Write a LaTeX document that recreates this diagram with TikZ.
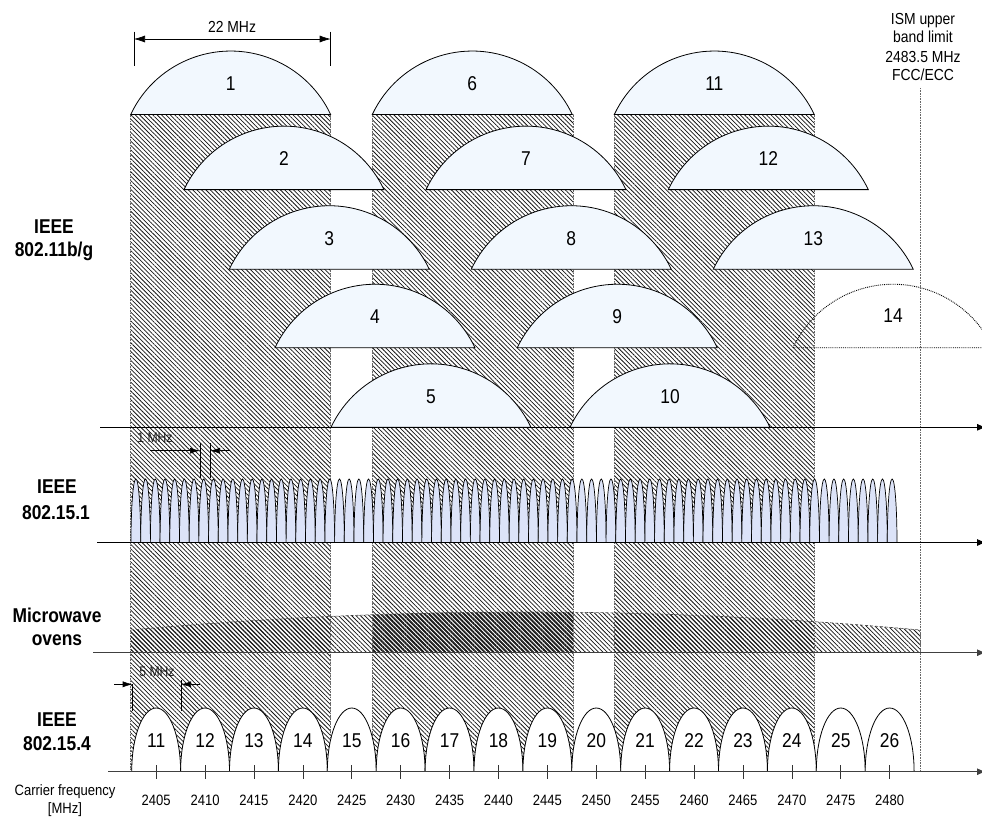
\documentclass[tikz,border=0pt]{standalone}
\usepackage{fontspec}
\setmainfont{Liberation Sans}[FakeStretch=0.87]
\usetikzlibrary{patterns.meta,arrows.meta}
\definecolor{domefill}{HTML}{F2F8FE}
\definecolor{btfill}{HTML}{DCE3F8}
\definecolor{hatchc}{HTML}{151515}
\newcommand\setfs[1]{\fontsize{#1}{#1}\selectfont}
\begin{document}
\begin{tikzpicture}[x=1pt,y=-1pt,
  hatch/.style={pattern={Lines[angle=-45,distance=3.1pt,line width=0.75pt]},pattern color=hatchc},
  hatchB/.style={pattern={Lines[angle=-45,distance=3.1pt,line width=0.75pt,yshift=0.6pt]},pattern color=hatchc},
  hatchC/.style={pattern={Lines[angle=-45,distance=3.1pt,line width=0.75pt,yshift=1.55pt]},pattern color=hatchc},
  bandedge/.style={densely dotted,draw=black!60,line width=0.6pt},
  dome/.style={draw=black,line width=0.8pt,fill=domefill},
  dome14/.style={draw=black,densely dotted,line width=0.9pt},
  btlobe/.style={draw=black,line width=0.7pt,fill=btfill},
  arch/.style={draw=black,line width=0.8pt,fill=white},
  axisline/.style={draw=black,line width=0.8pt,-{Latex[length=9pt,width=7pt]}},
  axisgray/.style={draw=black!75,line width=1.1pt,-{Latex[length=9pt,width=7pt]}},
  dimline/.style={draw=black,line width=0.6pt},
  dimarrow/.style={draw=black,line width=0.6pt,-{Latex[length=10pt,width=6pt]}},
  ticky/.style={draw=black!80,line width=0.7pt},
  num/.style={font=\setfs{20},inner sep=0pt},
  freq/.style={font=\setfs{15},inner sep=0pt},
  small/.style={font=\setfs{14},inner sep=0pt},
  lbl/.style={font=\bfseries\setfs{20},inner sep=0pt,anchor=base},
  side/.style={font=\setfs{15},inner sep=0pt,anchor=base},
  ism/.style={font=\setfs{16},inner sep=0pt,anchor=base},
]
\useasboundingbox (0,0) rectangle (982,817);
\clip (0,0) rectangle (982,817);

% dimension texts (under hatching)
\node[small,text=black!85] (t1mhz) at (155,438) {1 MHz};
\node[small,text=black!85] (t5mhz) at (157,672) {5 MHz};

% hatched non-overlapping channel bands
\foreach \l/\r in {130.7/330.7, 372.3/573.3, 614.3/814.3}{
  \fill[hatch] (\l,114.5) rectangle (\r,771.7);
}
% microwave oven band
\path[hatchB] (131,652.7) -- (131,630) .. controls (394,606) and (657,606) .. (920,630) -- (920,652.7) -- cycle;
\begin{scope}
  \clip (372.3,590) rectangle (573.3,652.7);
  \path[hatchC] (131,652.7) -- (131,630) .. controls (394,606) and (657,606) .. (920,630) -- (920,652.7) -- cycle;
\end{scope}
\draw[densely dashed,draw=black!75,line width=0.6pt] (131,630) .. controls (394,606) and (657,606) .. (920,630);
\draw[bandedge] (920,630) -- (920,652.7);

% dotted edges of the bands
\foreach \x in {130.7,330.7,372.3,573.3,614.3,814.3}{
  \draw[bandedge] (\x,114.5) -- (\x,771.7);
}
% ISM upper band limit
\coordinate (ismtop) at (920,88);
\coordinate (ismbot) at (920,771.7);
\draw[bandedge] (ismtop) -- (ismbot);
\node[ism] (ism1) at (923,24) {ISM upper};
\node[ism] (ism2) at (923,42.5) {band limit};
\node[ism] (ism3) at (923,62) {2483.5 MHz};
\node[ism] (ism4) at (923,80) {FCC/ECC};

% 802.11 channels (domes)
\foreach \l/\b/\n in {130.7/114.5/1, 372.3/114.5/6, 614.3/114.5/11,
                      184/189.6/2, 426/189.6/7, 668.3/189.6/12,
                      229.3/269.2/3, 471.3/269.2/8, 713.3/269.2/13,
                      275/347.7/4, 517.3/347.7/9,
                      331/427.3/5, 570/427.3/10}{
  \draw[dome] (\l,\b) arc[start angle=-154.8,end angle=-25.2,radius=110.5] -- cycle;
  \node[num] (w\n) at (\l+100,\b-31) {\n};
}
\draw[dome14] (793,347.7) arc[start angle=-154.8,end angle=-25.2,radius=110.5] -- cycle;
\node[num] (w14) at (893,316) {14};

% 22 MHz dimension
\coordinate (d22a) at (134,39);
\coordinate (d22b) at (330.7,39);
\draw[dimline] (134,31.7) -- (134,65.7);
\draw[dimline] (330.7,31.7) -- (330.7,65.7);
\draw[dimline,{Latex[length=11pt,width=7pt]}-{Latex[length=11pt,width=7pt]}] (d22a) -- (d22b);
\node[font=\setfs{16},inner sep=0pt] (t22) at (232,26.7) {22 MHz};

% 802.15.1 lobes
\foreach \i in {0,...,78}{
  \draw[btlobe] ({131+\i*9.696},542.5) arc[start angle=180,end angle=360,x radius=4.848,y radius=63.5];
}

% axes
\draw[axisline] (100,427.3) -- (986,427.3);
\draw[axisline] (97,542.5) -- (986,542.5);
\draw[axisgray] (93,652.7) -- (986,652.7);

% 1 MHz dimension
\coordinate (m1a) at (150,450.7);
\coordinate (m1b) at (200,450.7);
\coordinate (m1c) at (230,450.7);
\coordinate (m1d) at (210,450.7);
\draw[dimline] (200,443) -- (200,478);
\draw[dimline] (210,443) -- (210,478);
\draw[dimarrow] (m1a) -- (m1b);
\draw[dimarrow] (m1c) -- (m1d);

% 802.15.4 channels
\foreach \k in {11,...,26}{
  \pgfmathsetmacro\L{131.7+(\k-11)*48.9}
  \pgfmathsetmacro\C{\L+24.45}
  \pgfmathtruncatemacro\F{2405+5*(\k-11)}
  \draw[arch] (\L,771.7) arc[start angle=180,end angle=360,x radius=24.45,y radius=63.7];
  \node[num] (z\k) at (\C,741) {\k};
  \draw[ticky] (\C,765) -- (\C,779);
  \node[freq] (f\k) at (\C,800.5) {\F};
}
\draw[axisgray] (108,771.7) -- (986,771.7);

% 5 MHz dimension
\coordinate (m5a) at (114,684.3);
\coordinate (m5b) at (132.7,684.3);
\coordinate (m5c) at (200,684.3);
\coordinate (m5d) at (181,684.3);
\draw[dimline] (132.7,684.3) -- (132.7,710.7);
\draw[dimline] (181,680) -- (181,710.7);
\draw[dimarrow] (m5a) -- (m5b);
\draw[dimarrow] (m5c) -- (m5d);

% left labels
\node[lbl] (a1) at (54,233) {IEEE};
\node[lbl] (a2) at (54,256) {802.11b/g};
\node[lbl] (b1) at (57,493) {IEEE};
\node[lbl] (b2) at (56,519.5) {802.15.1};
\node[lbl] (c1) at (57,622) {Microwave};
\node[lbl] (c2) at (57,645) {ovens};
\node[lbl] (e1) at (57,726) {IEEE};
\node[lbl] (e2) at (57,750) {802.15.4};
\node[side] (g1) at (65,795) {Carrier frequency};
\node[side] (g2) at (65,813) {[MHz]};
\end{tikzpicture}
\end{document}
